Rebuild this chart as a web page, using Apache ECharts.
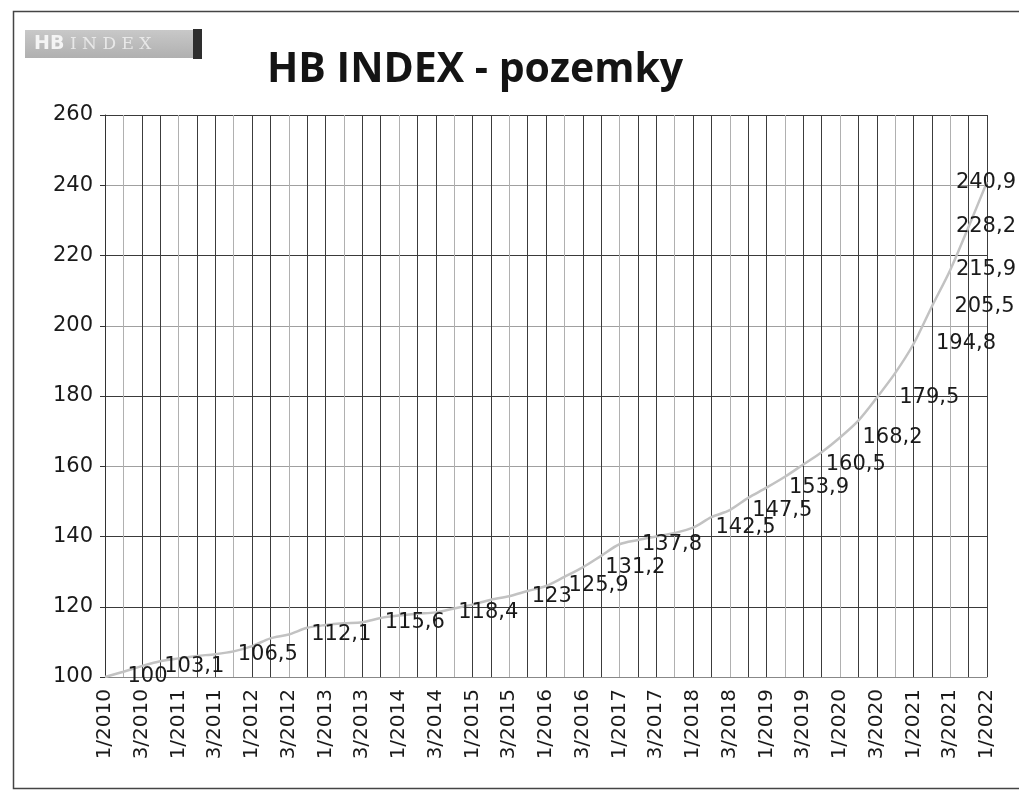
<!DOCTYPE html>
<html>
<head>
<meta charset="utf-8">
<script src="https://cdn.jsdelivr.net/npm/echarts@6/dist/echarts.min.js"></script>
<style>
html,body{margin:0;padding:0;background:#fff;}
#chart{width:1019px;height:793px;}
</style>
</head>
<body>
<div id="chart"></div>
<script>
// Quarterly categories 1/2010 .. 1/2022
const quarters = [
  "1/2010","2/2010","3/2010","4/2010",
  "1/2011","2/2011","3/2011","4/2011",
  "1/2012","2/2012","3/2012","4/2012",
  "1/2013","2/2013","3/2013","4/2013",
  "1/2014","2/2014","3/2014","4/2014",
  "1/2015","2/2015","3/2015","4/2015",
  "1/2016","2/2016","3/2016","4/2016",
  "1/2017","2/2017","3/2017","4/2017",
  "1/2018","2/2018","3/2018","4/2018",
  "1/2019","2/2019","3/2019","4/2019",
  "1/2020","2/2020","3/2020","4/2020",
  "1/2021","2/2021","3/2021","4/2021",
  "1/2022"
];
// HB INDEX values
const indexValues = [
  100, 101.5, 103.1, 104.5,
  105.3, 106.0, 106.5, 107.3,
  108.8, 111.0, 112.1, 114.0,
  114.8, 115.3, 115.6, 116.8,
  117.5, 118.0, 118.4, 119.5,
  120.6, 122.0, 123.0, 124.5,
  125.9, 128.5, 131.2, 134.5,
  137.8, 139.0, 140.0, 141.0,
  142.5, 145.5, 147.5, 151.0,
  153.9, 157.0, 160.5, 164.0,
  168.2, 173.0, 179.5, 186.5,
  194.8, 205.5, 215.9, 228.2,
  240.9
];
// Points that carry a data label
const labelledQuarters = [
  "1/2010","3/2010","3/2011","3/2012","3/2013","3/2014","3/2015",
  "1/2016","3/2016","1/2017","1/2018","3/2018","1/2019","3/2019",
  "1/2020","3/2020","1/2021","2/2021","3/2021","4/2021","1/2022"
];
const yTicks = [100,120,140,160,180,200,220,240,260];

const labelSet = new Set(labelledQuarters);
const fmt = v => String(v).replace('.', ',');

const chart = echarts.init(document.getElementById('chart'), null, {renderer:'canvas'});
const FONT = 'DejaVu Sans';

const seriesData = quarters.map((q, i) => ({
  value: indexValues[i],
  label: { show: labelSet.has(q) }
}));

// horizontal gridline colours from bottom (100) to top (260)
const hColors = ['#9a9a9a','#3a3a3a','#3a3a3a','#a0a0a0','#3a3a3a','#a0a0a0','#3a3a3a','#a0a0a0','#3a3a3a'];

const option = {
  animation: false,
  backgroundColor: '#fff',
  title: {
    text: 'HB INDEX - pozemky',
    left: 262, top: 45,
    textStyle: { fontFamily: 'Open Sans', fontWeight: 'bold', fontSize: 41, color: '#141414' }
  },
  graphic: [
    { type: 'rect', left: 11, top: 9, shape: { width: 1030, height: 777 },
      style: { fill: 'none', stroke: '#444', lineWidth: 1.5 }, silent: true },
    { type: 'rect', left: 25, top: 30, shape: { width: 170, height: 28 },
      style: { fill: new echarts.graphic.LinearGradient(0,0,0,1,[{offset:0,color:'#c8c8c8'},{offset:1,color:'#b0b0b0'}]) }, silent: true },
    { type: 'rect', left: 193, top: 29, shape: { width: 9, height: 30 },
      style: { fill: '#2e2e2e' }, silent: true },
    { type: 'text', left: 34, top: 35,
      style: { text: 'HB', fill: '#f4f4f4', font: 'bold 19px "DejaVu Sans"' }, silent: true },
    { type: 'text', left: 70, top: 36,
      style: { text: 'I N D E X', fill: '#e8e8e8', font: '17px "DejaVu Serif"' }, silent: true }
  ],
  grid: { left: 105, right: 32, top: 115, bottom: 116 },
  xAxis: {
    type: 'category',
    data: quarters,
    boundaryGap: false,
    axisLine: { show: true, lineStyle: { color: '#888', width: 1 } },
    axisTick: { show: false },
    axisLabel: {
      interval: 1, rotate: 90, margin: 12,
      fontFamily: FONT, fontSize: 20, color: '#1a1a1a'
    },
    splitLine: { show: true, interval: 0, lineStyle: { color: ['#3c3c3c','#b0b0b0','#3c3c3c'], width: 1 } }
  },
  yAxis: {
    type: 'value',
    min: 100, max: 260, interval: 20,
    axisLine: { show: true, lineStyle: { color: '#333', width: 1 } },
    axisTick: { show: true, length: 5, lineStyle: { color: '#333' } },
    axisLabel: { fontFamily: FONT, fontSize: 21, color: '#1a1a1a', margin: 12 },
    splitLine: { show: true, lineStyle: { color: hColors, width: 1 } }
  },
  series: [{
    type: 'line',
    data: seriesData,
    smooth: 0.3,
    showSymbol: true,
    symbol: 'circle',
    symbolSize: 1,
    itemStyle: { color: 'rgba(0,0,0,0)' },
    lineStyle: { color: '#c2c2c2', width: 2.5 },
    label: {
      position: 'right', distance: 22, offset: [0, 6],
      fontFamily: FONT, fontSize: 21, color: '#1a1a1a',
      formatter: p => fmt(p.value)
    },
    labelLayout: function (p) {
      const r = p.labelRect;
      const limit = 1016;
      if (r.x + r.width > limit) return { dx: limit - (r.x + r.width) };
      return {};
    }
  }]
};
chart.setOption(option);
</script>
</body>
</html>
